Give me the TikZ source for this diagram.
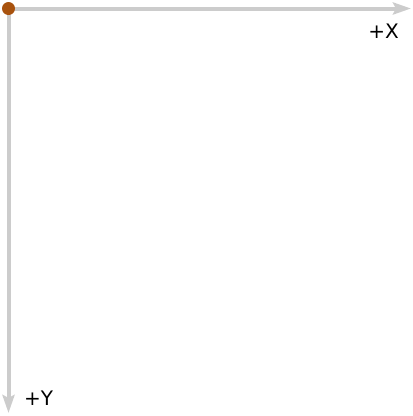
\documentclass[tikz,border=0pt]{standalone}
\usepackage{fontspec}
\setmainfont{DejaVu Sans}
\usetikzlibrary{arrows.meta}
\definecolor{axisGray}  {HTML}{CCCCCC}
\definecolor{originDot} {HTML}{A8520E}
\definecolor{labelInk}  {HTML}{000000}
\begin{document}
\begin{tikzpicture}[x=1pt, y=-1pt,
  axisline/.style ={line width=4pt, axisGray, -{Stealth[length=18pt, width=12pt, inset=3pt]}},
  dot/.style      ={circle, fill=originDot, inner sep=0pt, minimum size=13pt},
  lbl/.style      ={font=\fontsize{20}{22}\selectfont, text=labelInk, inner sep=0pt},
]
\useasboundingbox (0,0) rectangle (413,416);

\coordinate (o)    at (8.5,8.5);
\coordinate (xend) at (411,8.5);
\coordinate (yend) at (8.5,413);

\draw[axisline] (o) -- (xend);
\draw[axisline] (o) -- (yend);
\node[dot] (origin) at (o) {};

\node[lbl] (xlbl) at (383.5,31.5) {+X};
\node[lbl] (ylbl) at (38.5,398.5) {+Y};

\end{tikzpicture}
\end{document}
